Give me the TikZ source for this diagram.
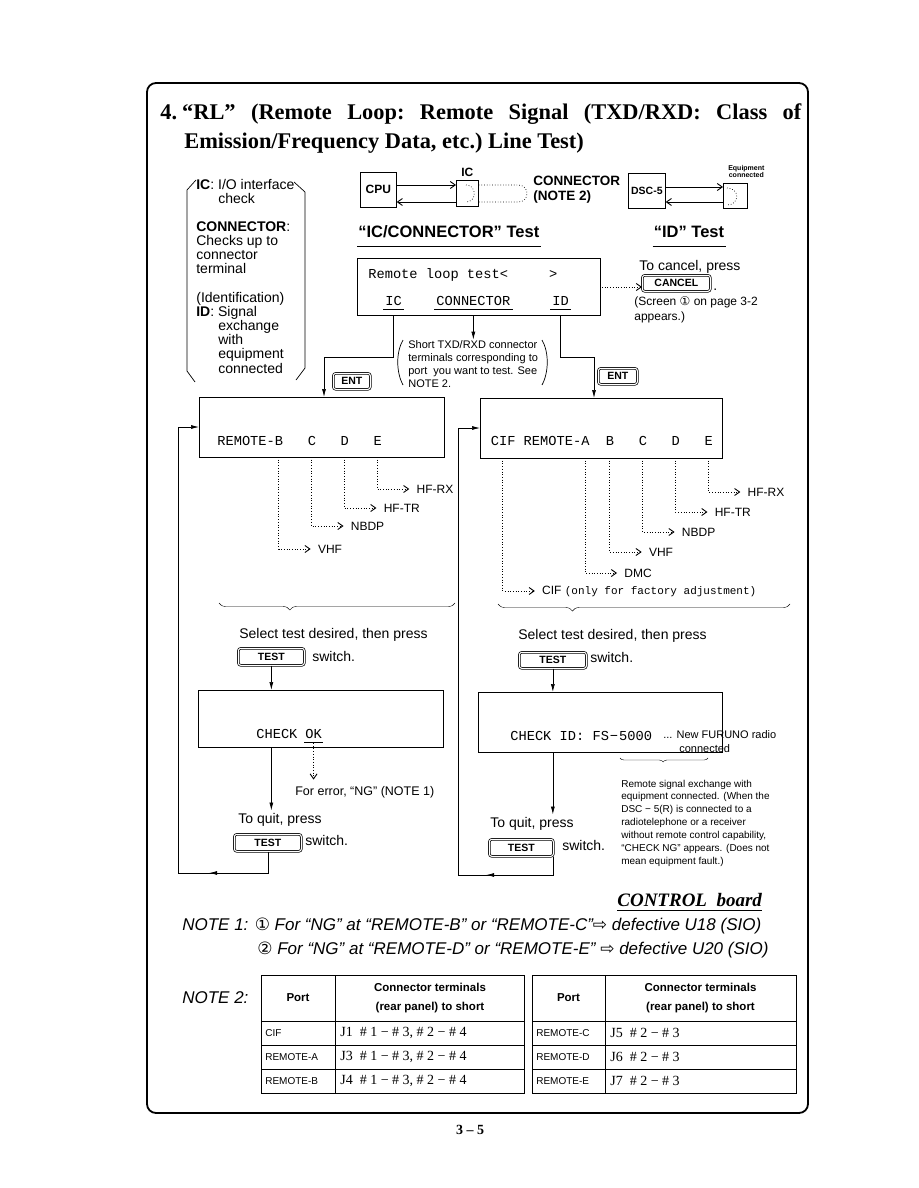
\documentclass[tikz,border=0pt]{standalone}
\usepackage{fontspec}
\setmainfont{Liberation Serif}
\setsansfont{Liberation Sans}
\setmonofont{Liberation Mono}
\newfontfamily\symfont{DejaVu Sans}
\usetikzlibrary{arrows.meta, positioning, calc, decorations.pathreplacing, decorations.markings}

\newcommand{\fsz}[2]{\fontsize{#1}{#2}\selectfont}
\newcommand{\circled}[1]{{\symfont #1}}

\tikzset{
  screen/.style={draw, anchor=north west, inner sep=0pt, outer sep=0pt},
  key/.style={draw, double, double distance=1.1pt, rounded corners=2.5pt, anchor=north west, inner sep=0pt, font=\sffamily\bfseries\fsz{10.5}{12}},
  txt/.style={anchor=base west, inner sep=0pt, font=\sffamily\fsz{14}{16}},
  mono/.style={anchor=base west, inner sep=0pt, font=\ttfamily\fsz{13.7}{16}},
  lbl/.style={anchor=west, inner sep=0pt, inner xsep=7pt, font=\sffamily\fsz{12}{14}},
  flow/.style={-{Latex[length=8pt,width=4pt]}},
  tx/.style={-{Straight Barb[length=5pt,width=7pt,line width=0.9pt]}},
  branch/.style={dotted, -{Straight Barb[length=5pt,width=7pt,line width=0.9pt]}},
  midarrow/.style={postaction={decorate}, decoration={markings, mark=at position #1 with {\arrow{Latex[length=8pt,width=4pt]}}}},
}

\begin{document}
\begin{tikzpicture}[x=1pt, y=-1pt, line width=0.7pt]
  \useasboundingbox (0,0) rectangle (918,1188);
  % outer frame
  \draw[line width=1.8pt, rounded corners=9pt] (147,83) rectangle (808,1113);

  % title
  \node[anchor=base west, inner sep=0pt, font=\rmfamily\bfseries\fsz{22.4}{26}\frenchspacing] (title1) at (160,120)
    {\makebox[641pt][s]{4.\hspace{5pt}“RL” (Remote Loop: Remote Signal (TXD/RXD: Class of}};
  \node[anchor=base west, inner sep=0pt, font=\rmfamily\bfseries\fsz{22.4}{26}\frenchspacing] (title2) at (184,149)
    {Emission/Frequency Data, etc.) Line Test)};

  % legend on the left (base = last line)
  \draw (196,180) -- (187,190) -- (187,371) -- (195,382);
  \draw (294,182) -- (305,192) -- (305,368) -- (296,380);
  \node[anchor=base west, inner sep=0pt, align=left, font=\sffamily\fsz{14}{14.15}] (legend) at (196,373)
    {\textbf{IC}: I/O interface\\
     \hspace*{22pt}check\\[14.15pt]
     \textbf{CONNECTOR}:\\
     Checks up to\\
     connector\\
     terminal\\[14.15pt]
     (Identification)\\
     \textbf{ID}: Signal\\
     \hspace*{22pt}exchange\\
     \hspace*{22pt}with\\
     \hspace*{22pt}equipment\\
     \hspace*{22pt}connected};

  % IC/CONNECTOR sketch
  \node[draw, anchor=north west, minimum width=36pt, minimum height=35pt, inner sep=0pt, font=\sffamily\bfseries\fsz{12}{14}] (cpu) at (360,172) {CPU};
  \node[draw, anchor=north west, minimum width=22pt, minimum height=26pt, inner sep=0pt] (ic) at (456,180) {};
  \node[above=3pt of ic, inner sep=0pt, font=\sffamily\bfseries\fsz{12}{14}] (iclbl) {IC};
  \draw[tx] (cpu.east |- 0,185) -- (ic.west |- 0,185);
  \draw[tx] (ic.west |- 0,202) -- (cpu.east |- 0,202);
  \draw[dotted] (466,185) .. controls (477,185) and (477,202) .. (466,202);
  \draw[dotted] (ic.east |- 0,185) -- (518,185) .. controls (530,185) and (530,202) .. (518,202) -- (ic.east |- 0,202);
  \node[anchor=base west, inner sep=0pt, align=left, font=\sffamily\bfseries\fsz{13.5}{15}] (connlbl) at (533,200) {CONNECTOR\\(NOTE 2)};

  % ID sketch
  \node[draw, anchor=north west, minimum width=37pt, minimum height=35pt, inner sep=0pt, font=\sffamily\bfseries\fsz{10.5}{12}] (dsc) at (628,173) {DSC-5};
  \node[draw, anchor=north west, minimum width=24pt, minimum height=25pt, inner sep=0pt] (equip) at (723,183) {};
  \node[above=5pt of equip, xshift=11pt, inner sep=0pt, align=center, font=\sffamily\bfseries\fsz{7}{7.5}] (equiplbl) {Equipment\\connected};
  \draw[tx] (dsc.east |- 0,187) -- (equip.west |- 0,187);
  \draw[tx] (equip.west |- 0,202) -- (dsc.east |- 0,202);
  \draw[dotted] (727,188) .. controls (740,188) and (740,205) .. (727,205);

  % headings
  \node[anchor=base west, inner sep=0pt, font=\sffamily\bfseries\fsz{16.5}{18}] (ictest) at (358,237) {“IC/CONNECTOR” Test};
  \draw ($(ictest.base west)+(-1,9)$) -- ($(ictest.base east)+(1,9)$);
  \node[anchor=base, inner sep=0pt, font=\sffamily\bfseries\fsz{16.5}{18}] (idtest) at (689,237) {“ID” Test};
  \draw ($(idtest.base west)+(-1,9)$) -- ($(idtest.base east)+(1,9)$);

  % remote loop test screen
  \node[screen, minimum width=243pt, minimum height=57pt] (rlbox) at (357,258) {};
  \node[mono] (rltxt) at (368,278) {Remote loop test<\phantom{xxxxx}>};
  \node[mono] (rlIC) at (385,305) {IC};
  \node[mono] (rlCONN) at (436,305) {CONNECTOR};
  \node[mono] (rlID) at (552,305) {ID};
  \foreach \n in {rlIC, rlCONN, rlID}
    \draw ($(\n.base west)+(-2,4)$) -- ($(\n.base east)+(2,4)$);

  \node[txt] (cancel1) at (639,270) {To cancel, press};
  \node[key, minimum width=68pt, minimum height=16pt] (cancel) at (642,275) {CANCEL};
  \node[txt] (canceldot) at (713,290) {.};
  \coordinate (cstart) at (602,287);
  \draw[branch] (cstart) -- (cancel.west |- cstart);
  \node[anchor=base west, inner sep=0pt, align=left, font=\sffamily\fsz{12}{15}] (scrnote) at (634,320)
    {(Screen \circled{①} on page 3-2\\appears.)};

  % connector note
  \node[anchor=base west, inner sep=0pt, align=left, font=\sffamily\fsz{11}{13.1}] (shortnote) at (408,387.3)
    {Short TXD/RXD connector\\terminals corresponding to\\port\ \ you want to test. See\\NOTE 2.};
  \draw (403,340) .. controls (396,352) and (396,372) .. (403,385);
  \draw (542,340) .. controls (549,352) and (549,372) .. (542,385);
  \draw[flow] (rlCONN.south |- rlbox.south) -- (rlCONN.south |- shortnote.north);

  % ENT keys and paths to the port screens
  \node[key, minimum width=37pt, minimum height=16pt] (entB) at (333,373) {ENT};
  \node[key, minimum width=39pt, minimum height=16pt] (entA) at (598,368) {ENT};
  \coordinate (turnB) at (324,357);
  \coordinate (turnA) at (594,357);
  \node[screen, minimum width=245pt, minimum height=60pt] (scrB) at (199,397) {};
  \node[screen, minimum width=242pt, minimum height=60pt] (scrA) at (480,398) {};
  \draw[flow] (rlIC.south |- rlbox.south) |- (turnB) -- (turnB |- scrB.north);
  \draw[flow] (rlID.south |- rlbox.south) |- (turnA) -- (turnA |- scrA.north);

  % IC port screen
  \node[mono] (scrBtxt) at (217,445) {REMOTE-B\phantom{xxx}C\phantom{xxx}D\phantom{xxx}E};
  \foreach \i/\y/\nm/\lab in {7/549/bVHF/VHF, 11/526/bNBDP/NBDP, 15/508/bHFTR/HF-TR, 19/489/bHFRX/HF-RX}{
    \path (scrBtxt.base west) ++({(\i+0.5)*8.22},0) coordinate (\nm0) ++(32,0) coordinate (\nm1);
    \node[lbl] (\nm) at (\nm1 |- 0,\y) {\lab};
    \draw[branch] (\nm0 |- scrB.south) |- (\nm.west);
  }

  % ID port screen
  \node[mono] (scrAtxt) at (490.5,445) {CIF REMOTE-A\phantom{xx}B\phantom{xxx}C\phantom{xxx}D\phantom{xxx}E};
  \foreach \i/\y/\nm/\lab in {1/591/aCIF/{CIF {\ttfamily\fsz{11}{13}(only for factory adjustment)}}, 11/573/aDMC/DMC,
      14/552/aVHF/VHF, 18/532/aNBDP/NBDP, 22/512/aHFTR/HF-TR, 26/492/aHFRX/HF-RX}{
    \path (scrAtxt.base west) ++({(\i+0.5)*8.22},0) coordinate (\nm0) ++(32,0) coordinate (\nm1);
    \node[lbl] (\nm) at (\nm1 |- 0,\y) {\lab};
    \draw[branch] (\nm0 |- scrA.south) |- (\nm.west);
  }

  \draw[thin, decorate, decoration={brace, mirror, amplitude=7pt, aspect=0.3}] (219,603) -- (455,603);
  \draw[thin, decorate, decoration={brace, mirror, amplitude=7pt, aspect=0.255}] (498,604) -- (790,604);

  % left: test and result
  \node[txt] (selB) at (239,638) {Select test desired, then press};
  \node[key, minimum width=66pt, minimum height=17pt] (testB1) at (238,648) {TEST};
  \node[txt] (swB1) at (312,661) {switch.};
  \node[screen, minimum width=245pt, minimum height=57pt] (chkB) at (198,690) {};
  \draw[flow] (testB1.south) -- (testB1.south |- chkB.north);
  \node[mono] (chkBtxt) at (256,738) {CHECK};
  \node[mono] (okB) at (305,738) {OK};
  \draw ($(okB.base west)+(-1,4)$) -- ($(okB.base east)+(1,4)$);
  \node[anchor=base west, inner sep=0pt, font=\sffamily\fsz{12.5}{14}] (errB) at (295,795) {For error, “NG” (NOTE 1)};
  \draw[branch] ($(okB.base)+(0,5)$) -- ($(okB.base |- errB.north)+(0,-6)$);
  \node[txt] (quitB) at (238,823) {To quit, press};
  \draw[flow] (testB1.south |- chkB.south) -- ($(testB1.south |- quitB.north)+(0,-2)$);
  \node[key, minimum width=67pt, minimum height=17pt] (testB2) at (234,834) {TEST};
  \node[txt] (swB2) at (305,845) {switch.};
  \coordinate (loopB) at (178,873);
  \draw[flow, midarrow=80pt] (testB2.south) |- (loopB) |- (scrB.west);

  % right: test and result
  \node[txt] (selA) at (518,639) {Select test desired, then press};
  \node[key, minimum width=67pt, minimum height=16pt] (testA1) at (519,652) {TEST};
  \node[txt] (swA1) at (590,662) {switch.};
  \node[screen, minimum width=244pt, minimum height=60pt] (chkA) at (478,692) {};
  \draw[flow] (testA1.south) -- (testA1.south |- chkA.north);
  \node[mono] (chkAtxt) at (510,740) {CHECK ID: FS\hspace{1pt}−\hspace{1pt}5000};
  \node[anchor=base west, inner sep=0pt, font=\sffamily\fsz{11}{13}] (furuno) at (663,738) {... New FURUNO radio};
  \node[anchor=base west, inner sep=0pt, font=\sffamily\fsz{11}{13}] (connd) at (679,752) {connected};
  \draw[thin, decorate, decoration={brace, mirror, amplitude=4pt, aspect=0.49}] (620,758) -- (708,758);
  \node[anchor=base west, inner sep=0pt, align=left, font=\sffamily\fsz{10}{12.9}] (idnote) at (621,864.4)
    {Remote signal exchange with\\equipment connected. (When the\\DSC − 5(R) is connected to a\\radiotelephone or a receiver\\without remote control capability,\\“CHECK NG” appears. (Does not\\mean equipment fault.)};
  \node[txt] (quitA) at (490,827) {To quit, press};
  \draw[flow] (testA1.south |- chkA.south) -- ($(testA1.south |- quitA.north)+(0,-2)$);
  \node[key, minimum width=64pt, minimum height=17pt] (testA2) at (489,839) {TEST};
  \node[txt] (swA2) at (562,850) {switch.};
  \coordinate (loopA) at (458,875);
  \draw[flow, midarrow=85pt] (testA2.south -| testA1.south) |- (loopA) |- (scrA.west);

  % notes
  \node[anchor=base west, inner sep=0pt, font=\rmfamily\bfseries\itshape\fsz{19}{22}] (ctrl) at (617,906) {CONTROL\ \ board};
  \draw ($(ctrl.base west)+(0,4)$) -- ($(ctrl.base east)+(0,4)$);
  \node[anchor=base west, inner sep=0pt, font=\sffamily\itshape\fsz{17}{20}] (note1) at (182,930)
    {NOTE 1: \circled{①} For “NG” at “REMOTE-B” or “REMOTE-C”\circled{⇨} defective U18 (SIO)};
  \node[anchor=base west, inner sep=0pt, font=\sffamily\itshape\fsz{17}{20}] (note1b) at (257,954)
    {\circled{②} For “NG” at “REMOTE-D” or “REMOTE-E” \circled{⇨} defective U20 (SIO)};
  \node[anchor=base west, inner sep=0pt, font=\sffamily\itshape\fsz{17}{20}] (note2) at (182,1003) {NOTE 2:};

  % port tables
  \draw (261,975) rectangle (524,1093);
  \draw (335,975) -- (335,1093);
  \draw (532,975) rectangle (796,1093);
  \draw (605,975) -- (605,1093);
  \foreach \y in {1021,1045,1069}{
    \draw (261,\y) -- (524,\y);
    \draw (532,\y) -- (796,\y);
  }
  \foreach \x/\xx/\tn in {298/430/tabL, 568.5/700.5/tabR}{
    \node[font=\sffamily\bfseries\fsz{11.5}{14}] (\tn port) at (\x,998) {Port};
    \node[align=center, font=\sffamily\bfseries\fsz{11.5}{19}] (\tn head) at (\xx,998) {Connector terminals\\(rear panel) to short};
  }
  \foreach \p/\t [count=\k] in {CIF/{J1\enspace\# 1 − \# 3, \# 2 − \# 4}, REMOTE-A/{J3\enspace\# 1 − \# 3, \# 2 − \# 4}, REMOTE-B/{J4\enspace\# 1 − \# 3, \# 2 − \# 4}}{
    \node[anchor=west, inner sep=0pt, font=\sffamily\fsz{10}{12}] (portL\k) at (265,{1009+24*\k}) {\p};
    \node[anchor=west, inner sep=0pt, font=\rmfamily\fsz{14}{16}] (termL\k) at (340,{1009+24*\k}) {\t};
  }
  \foreach \p/\t [count=\k] in {REMOTE-C/{J5\enspace\# 2 − \# 3}, REMOTE-D/{J6\enspace\# 2 − \# 3}, REMOTE-E/{J7\enspace\# 2 − \# 3}}{
    \node[anchor=west, inner sep=0pt, font=\sffamily\fsz{10}{12}] (portR\k) at (536,{1009+24*\k}) {\p};
    \node[anchor=west, inner sep=0pt, font=\rmfamily\fsz{14}{16}] (termR\k) at (610,{1009+24*\k}) {\t};
  }

  \node[font=\rmfamily\bfseries\fsz{14}{16}] (pageno) at (470,1130) {3 – 5};
\end{tikzpicture}
\end{document}
